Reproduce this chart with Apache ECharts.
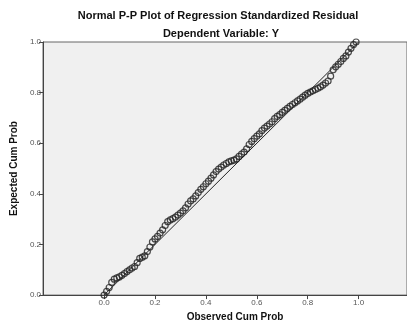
<!DOCTYPE html>
<html>
<head>
<meta charset="utf-8">
<script src="https://cdn.jsdelivr.net/npm/echarts@6/dist/echarts.min.js"></script>
<style>
html,body{margin:0;padding:0;background:#fff}
#chart{width:407px;height:327px}
</style>
</head>
<body>
<div id="chart"></div>
<script>
// observed cum prob (x) and expected cum prob (y)
var observed = [0.00,0.01,0.02,0.03,0.04,0.05,0.06,0.07,0.08,0.09,
    0.10,0.11,0.12,0.13,0.14,0.15,0.16,0.17,0.18,0.19,
    0.20,0.21,0.22,0.23,0.24,0.25,0.26,0.27,0.28,0.29,
    0.30,0.31,0.32,0.33,0.34,0.35,0.36,0.37,0.38,0.39,
    0.40,0.41,0.42,0.43,0.44,0.45,0.46,0.47,0.48,0.49,
    0.50,0.51,0.52,0.53,0.54,0.55,0.56,0.57,0.58,0.59,
    0.60,0.61,0.62,0.63,0.64,0.65,0.66,0.67,0.68,0.69,
    0.70,0.71,0.72,0.73,0.74,0.75,0.76,0.77,0.78,0.79,
    0.80,0.81,0.82,0.83,0.84,0.85,0.86,0.87,0.88,0.89,
    0.90,0.91,0.92,0.93,0.94,0.95,0.96,0.97,0.98,0.99]
var expected = [0.000,0.015,0.030,0.050,0.063,0.068,0.072,0.078,0.085,0.093,
    0.100,0.107,0.113,0.128,0.145,0.150,0.155,0.172,0.190,0.210,
    0.222,0.232,0.245,0.258,0.275,0.290,0.297,0.302,0.308,0.316,
    0.324,0.333,0.345,0.360,0.372,0.380,0.392,0.405,0.418,0.428,
    0.440,0.450,0.462,0.475,0.488,0.498,0.506,0.514,0.520,0.526,
    0.530,0.533,0.538,0.548,0.557,0.565,0.578,0.595,0.607,0.618,
    0.628,0.637,0.650,0.660,0.668,0.676,0.685,0.697,0.706,0.713,
    0.722,0.730,0.738,0.746,0.753,0.760,0.767,0.774,0.782,0.790,
    0.797,0.802,0.807,0.812,0.817,0.823,0.830,0.838,0.846,0.865,
    0.890,0.902,0.912,0.923,0.935,0.945,0.960,0.975,0.990,1.000]
var refLine = [[0, 0], [1, 1]]
var tickValues = [0, 0.2, 0.4, 0.6, 0.8, 1.0]

var myChart = echarts.init(document.getElementById('chart'))
var points = []
for (let i = 0; i < observed.length; i++) {
    points.push([observed[i], expected[i]])
}

var font = 'Liberation Sans, Arial, sans-serif'
option = {
    animation: false,
    title: [{
        text: 'Normal P-P Plot of Regression Standardized Residual',
        left: 213,
        top: 5,
        textAlign: 'center',
        textStyle: {fontSize: 11, fontWeight: 'bold', color: '#111', fontFamily: font}
    }, {
        text: 'Dependent Variable: Y',
        left: 216,
        top: 23,
        textAlign: 'center',
        textStyle: {fontSize: 11, fontWeight: 'bold', color: '#111', fontFamily: font}
    }],
    grid: {
        left: 43,
        top: 42,
        right: -2,
        bottom: 31,
        show: true,
        backgroundColor: '#f0f0f0',
        borderColor: '#666',
        borderWidth: 1
    },
    xAxis: {
        type: 'value',
        min: -0.24,
        max: 1.19,
        name: 'Observed Cum Prob',
        nameLocation: 'middle',
        nameGap: 16,
        nameTextStyle: {fontSize: 10, fontWeight: 'bold', color: '#111', fontFamily: font, padding: [0, 0, 0, 20]},
        axisLine: {onZero: false, lineStyle: {color: '#444'}},
        axisTick: {show: true, length: 4, customValues: tickValues, lineStyle: {color: '#444'}},
        axisLabel: {
            customValues: tickValues,
            fontSize: 8,
            color: '#555',
            margin: 4,
            fontFamily: font,
            formatter: function (v) { return v.toFixed(1) }
        },
        splitLine: {show: false}
    },
    yAxis: {
        type: 'value',
        min: 0,
        max: 1,
        interval: 0.2,
        name: 'Expected Cum Prob',
        nameLocation: 'middle',
        nameGap: 20,
        nameTextStyle: {fontSize: 10, fontWeight: 'bold', color: '#111', fontFamily: font},
        axisLine: {show: true, onZero: false, lineStyle: {color: '#444'}},
        axisTick: {show: true, length: 4, lineStyle: {color: '#444'}},
        axisLabel: {
            fontSize: 8,
            color: '#555',
            margin: 2,
            fontFamily: font,
            formatter: function (v) { return v.toFixed(1) }
        },
        splitLine: {show: false}
    },
    series: [{
        type: 'line',
        data: refLine,
        symbol: 'none',
        lineStyle: {color: '#222', width: 1},
        z: 3
    }, {
        type: 'scatter',
        data: points,
        symbol: 'circle',
        symbolSize: 6,
        itemStyle: {color: 'rgba(0,0,0,0)', borderColor: '#222', borderWidth: 1.2},
        z: 2
    }]
}

myChart.setOption(option, true)
</script>
</body>
</html>
